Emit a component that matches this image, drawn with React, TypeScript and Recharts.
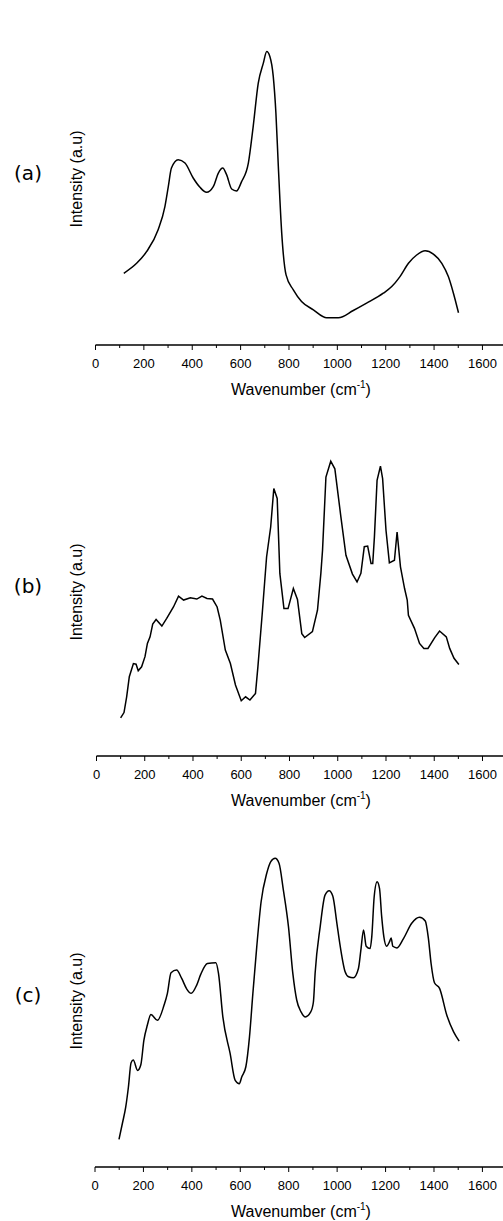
import React from "react";
import { LineChart, Line, XAxis, YAxis } from "recharts";

// wavenumber (cm-1) and intensity (arbitrary units, 0-100 of the plot height)
const waveA = [117, 170, 211, 259, 287, 301, 314, 342, 370, 404, 432, 459, 487, 508, 526, 542, 563, 583, 604, 632, 652, 673, 694, 708, 721, 735, 746, 756, 770, 788, 818, 852, 901, 956, 1004, 1066, 1121, 1190, 1225, 1259, 1294, 1328, 1363, 1397, 1432, 1459, 1480, 1501];
const intensityA = [21.6, 24.6, 28.1, 34.7, 41.7, 47.7, 53.3, 55.8, 54.8, 50.3, 47.5, 46.0, 47.7, 51.8, 53.3, 51.3, 47.0, 46.4, 49.2, 54.8, 65.8, 78.9, 84.9, 88.4, 86.9, 80.9, 69.8, 53.8, 33.7, 21.1, 16.6, 13.1, 10.6, 8.2, 8.2, 10.4, 12.6, 15.6, 17.6, 20.6, 24.6, 27.1, 28.4, 27.4, 24.6, 20.6, 15.6, 9.7];

const waveB = [100, 114, 125, 136, 153, 164, 173, 187, 201, 211, 222, 233, 247, 271, 291, 319, 340, 361, 389, 416, 437, 458, 481, 500, 513, 534, 555, 576, 600, 618, 636, 659, 669, 687, 705, 722, 735, 749, 760, 777, 794, 816, 833, 851, 863, 895, 916, 930, 937, 951, 971, 988, 1013, 1034, 1061, 1080, 1096, 1110, 1124, 1138, 1145, 1152, 1163, 1177, 1186, 1200, 1214, 1235, 1246, 1260, 1277, 1288, 1293, 1318, 1339, 1357, 1374, 1402, 1422, 1450, 1464, 1482, 1502];
const intensityB = [11.6, 13.2, 18.0, 24.1, 28.1, 27.9, 25.9, 27.1, 30.2, 34.2, 36.2, 40.1, 41.5, 39.5, 41.8, 45.3, 48.6, 47.4, 48.1, 47.7, 48.6, 47.9, 47.7, 45.3, 41.3, 32.2, 28.1, 21.6, 16.8, 18.0, 17.0, 19.0, 27.1, 43.3, 60.5, 69.6, 81.3, 78.3, 55.5, 44.8, 44.8, 50.9, 47.6, 37.2, 36.0, 37.8, 44.3, 55.5, 62.6, 84.8, 89.6, 87.3, 72.7, 61.0, 55.3, 52.9, 55.5, 63.6, 63.8, 58.5, 58.5, 66.6, 83.8, 88.1, 84.3, 68.6, 58.7, 59.5, 68.1, 57.5, 50.9, 47.4, 42.8, 38.8, 34.2, 32.7, 32.7, 36.0, 38.0, 36.2, 32.7, 29.7, 27.8];

const waveC = [99, 113, 127, 138, 149, 158, 176, 189, 202, 216, 231, 258, 285, 299, 314, 337, 358, 379, 397, 420, 437, 464, 499, 510, 528, 558, 579, 596, 606, 623, 638, 652, 668, 686, 709, 726, 744, 760, 778, 799, 817, 833, 851, 868, 891, 902, 909, 930, 950, 967, 982, 999, 1010, 1033, 1047, 1067, 1088, 1098, 1109, 1120, 1136, 1143, 1153, 1165, 1175, 1184, 1193, 1204, 1216, 1223, 1230, 1247, 1274, 1308, 1340, 1364, 1377, 1388, 1402, 1423, 1453, 1481, 1504];
const intensityC = [8.3, 13.1, 18.1, 24.1, 31.4, 32.2, 29.1, 30.7, 38.2, 42.7, 45.9, 44.2, 48.7, 52.3, 58.5, 59.3, 56.8, 53.6, 52.3, 54.8, 58.1, 61.3, 61.5, 58.3, 45.2, 34.2, 26.1, 25.1, 27.1, 30.2, 39.2, 52.3, 66.3, 79.9, 88.4, 92.0, 93.0, 91.5, 83.4, 72.4, 58.3, 50.3, 46.7, 45.2, 46.7, 49.7, 58.3, 72.4, 81.9, 83.2, 81.6, 73.4, 67.8, 58.8, 57.3, 57.0, 59.8, 65.3, 71.4, 66.5, 65.8, 69.3, 81.4, 85.9, 83.9, 75.4, 69.3, 66.5, 67.8, 69.0, 66.5, 66.0, 68.8, 73.4, 75.2, 74.1, 68.8, 61.3, 55.5, 53.8, 45.7, 40.7, 37.9];

const xTicks = [0, 100, 200, 300, 400, 500, 600, 700, 800, 900, 1000, 1100, 1200, 1300, 1400, 1500, 1600];

const toRows = (xs: number[], ys: number[]) => xs.map((x, i) => ({ x, y: ys[i] }));

const sans = "'Liberation Sans', Arial, sans-serif";

const AxisTick = (props: any) => {
  const { x, y, payload } = props;
  const major = payload.value % 200 === 0;
  return (
    <g>
      <line x1={x} x2={x} y1={y} y2={y + (major ? 5 : 3)} stroke="#000" strokeWidth={1} />
      {major && (
        <text x={x} y={y + 18} textAnchor="middle" dominantBaseline="central" fontSize={13} fontFamily={sans} fill="#000">
          {payload.value}
        </text>
      )}
    </g>
  );
};

type PanelProps = {
  tag: string;
  xs: number[];
  ys: number[];
  top: number;
  plotTop: number;
  plotBottom: number;
  left: number;
  curve: "monotone" | "linear";
};

function Panel({ tag, xs, ys, top, plotTop, plotBottom, left, curve }: PanelProps) {
  const axisH = 55;
  const height = plotBottom - top + axisH;
  const mid = (plotTop + plotBottom) / 2;
  return (
    <>
      <div style={{ position: "absolute", left: 0, top }}>
        <LineChart
          width={503}
          height={height}
          data={toRows(xs, ys)}
          margin={{ top: plotTop - top, right: 0, bottom: 0, left }}
        >
          <XAxis
            dataKey="x"
            type="number"
            domain={[0, 1685]}
            ticks={xTicks}
            interval={0}
            height={axisH}
            tickSize={0}
            tickMargin={0}
            tickLine={false}
            tick={<AxisTick />}
            axisLine={{ stroke: "#000", strokeWidth: 1.3 }}
            allowDataOverflow
          />
          <YAxis
            type="number"
            domain={[0, 100]}
            width={0}
            tick={false}
            tickLine={false}
            axisLine={{ stroke: "#000", strokeWidth: 1.3 }}
          />
          <Line
            type={curve}
            dataKey="y"
            stroke="#000"
            strokeWidth={1.5}
            dot={false}
            activeDot={false}
            isAnimationActive={false}
          />
        </LineChart>
      </div>
      <div
        style={{
          position: "absolute",
          left: 28,
          top: mid - 6,
          transform: "translate(-50%, -50%)",
          fontFamily: "'DejaVu Sans', sans-serif",
          fontSize: 20,
          color: "#000",
          whiteSpace: "nowrap",
        }}
      >
        ({tag})
      </div>
      <div
        style={{
          position: "absolute",
          left: 77,
          top: mid,
          transform: "translate(-50%, -50%) rotate(-90deg)",
          fontFamily: sans,
          fontSize: 16,
          color: "#000",
          whiteSpace: "nowrap",
        }}
      >
        Intensity (a.u)
      </div>
      <div
        style={{
          position: "absolute",
          left: 301,
          top: plotBottom + 44,
          transform: "translate(-50%, -50%)",
          fontFamily: sans,
          fontSize: 16,
          color: "#000",
          whiteSpace: "nowrap",
        }}
      >
        Wavenumber (cm<sup style={{ fontSize: 10 }}>-1</sup>)
      </div>
    </>
  );
}

export default function App() {
  return (
    <div style={{ position: "absolute", left: 0, top: 0, width: 503, height: 1221, background: "#fff", overflow: "hidden" }}>
      <Panel tag="a" xs={waveA} ys={intensityA} top={0} plotTop={13} plotBottom={345} left={95.5} curve="monotone" />
      <Panel tag="b" xs={waveB} ys={intensityB} top={400} plotTop={427} plotBottom={756} left={96.5} curve="linear" />
      <Panel tag="c" xs={waveC} ys={intensityC} top={811} plotTop={835} plotBottom={1167} left={95} curve="monotone" />
    </div>
  );
}
